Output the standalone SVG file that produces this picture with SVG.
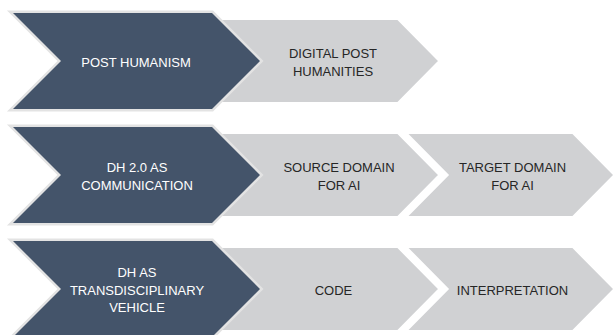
<svg xmlns="http://www.w3.org/2000/svg" width="613" height="335" viewBox="0 0 613 335">
<style>
.dark{fill:#44546a;stroke:#e3e3e3;stroke-width:5;stroke-linejoin:miter;paint-order:stroke}
.gray{fill:#d0d1d3;stroke:#ffffff;stroke-width:3;stroke-linejoin:miter}
text{font-family:"Liberation Sans",Arial,sans-serif;font-size:13px;text-anchor:middle}
.lt{fill:#ffffff}
.dt{fill:#262626}
</style>
<rect width="613" height="335" fill="#ffffff"/>
<g id="row1">
<g id="n-digital-post-humanities">
<polygon class="gray" points="190,18.5 398,18.5 440,61 398,103.5 190,103.5 232,61"/>
<text class="dt" x="333" y="58">DIGITAL POST</text>
<text class="dt" x="333" y="76">HUMANITIES</text>
</g>
<g id="n-post-humanism">
<polygon class="dark" points="13,13 212,13 260,61 212,109 13,109 61,61"/>
<text class="lt" x="136" y="66.5">POST HUMANISM</text>
</g>
</g>
<g id="row2">
<g id="n-target-domain">
<polygon class="gray" points="405,132.5 573,132.5 615,175 573,217.5 405,217.5 447,175"/>
<text class="dt" x="512.5" y="172">TARGET DOMAIN</text>
<text class="dt" x="512.5" y="190">FOR AI</text>
</g>
<g id="n-source-domain">
<polygon class="gray" points="190,132.5 398,132.5 440,175 398,217.5 190,217.5 232,175"/>
<text class="dt" x="339" y="172">SOURCE DOMAIN</text>
<text class="dt" x="339" y="190">FOR AI</text>
</g>
<g id="n-dh20">
<polygon class="dark" points="13,127 212,127 260,175 212,223 13,223 61,175"/>
<text class="lt" x="137" y="172">DH 2.0 AS</text>
<text class="lt" x="137" y="190">COMMUNICATION</text>
</g>
</g>
<g id="row3">
<g id="n-interpretation">
<polygon class="gray" points="405,246.5 573,246.5 615,289 573,331.5 405,331.5 447,289"/>
<text class="dt" x="512.5" y="294.5">INTERPRETATION</text>
</g>
<g id="n-code">
<polygon class="gray" points="190,246.5 398,246.5 440,289 398,331.5 190,331.5 232,289"/>
<text class="dt" x="333.5" y="294.5">CODE</text>
</g>
<g id="n-dh-transdisciplinary">
<polygon class="dark" points="13,241 212,241 260,289 212,337 13,337 61,289"/>
<text class="lt" x="137" y="277">DH AS</text>
<text class="lt" x="137" y="294.5">TRANSDISCIPLINARY</text>
<text class="lt" x="137" y="312">VEHICLE</text>
</g>
</g>
<g id="connectors"></g>
</svg>
